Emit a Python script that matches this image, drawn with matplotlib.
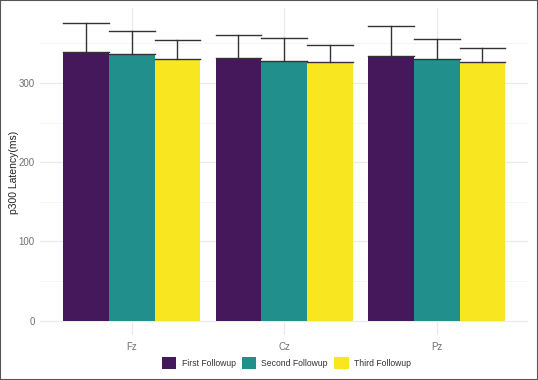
import matplotlib
matplotlib.use("Agg")
import matplotlib.pyplot as plt
from matplotlib.patches import Patch, Rectangle
import numpy as np

sites = ["Fz", "Cz", "Pz"]
series = ["First Followup", "Second Followup", "Third Followup"]
means = {
    "First Followup": [338.8, 332.0, 333.7],
    "Second Followup": [336.6, 328.2, 329.9],
    "Third Followup": [329.9, 326.2, 326.2],
}
sds = {
    "First Followup": [36.6, 29.0, 38.7],
    "Second Followup": [29.1, 29.0, 25.3],
    "Third Followup": [23.8, 21.8, 18.4],
}
colors = ["#44185A", "#21908C", "#F8E621"]

plt.rcParams['font.family'] = ['Liberation Sans', 'DejaVu Sans']
fig = plt.figure(figsize=(5.38, 3.8), dpi=100)
W, H = 538, 380
ax = fig.add_axes([40.2 / W, 1 - 335.4 / H, (528.2 - 40.2) / W, (335.4 - 8.4) / H])

x = np.arange(1, len(sites) + 1)
bw = 0.3
for i, s in enumerate(series):
    xs = x + (i - 1) * bw
    m = np.array(means[s]); sd = np.array(sds[s])
    ax.bar(xs, m, width=bw, color=colors[i], zorder=2, linewidth=0)
    for xx, mm, ss in zip(xs, m, sd):
        ax.plot([xx, xx], [mm, mm + ss], color="#333333", lw=1.0, zorder=3)
        ax.plot([xx - bw / 2, xx + bw / 2], [mm + ss, mm + ss], color="#333333", lw=1.0, zorder=3)
        ax.plot([xx - bw / 2, xx + bw / 2], [mm, mm], color="#333333", lw=1.0, zorder=3)

top = max(max(np.array(means[s]) + np.array(sds[s])) for s in series)
rng = top - 0
ax.set_ylim(0 - 0.05 * rng, top + 0.05 * rng)
ax.set_xlim(0.4, 3.6)
ax.set_xticks(x)
ax.set_xticklabels(sites)
ax.set_yticks([0, 100, 200, 300])
ax.set_yticks([50, 150, 250, 350], minor=True)
ax.grid(True, which='major', color="#EBEBEB", lw=0.9, zorder=0)
ax.grid(True, which='minor', axis='y', color="#F4F4F4", lw=0.6, zorder=0)
ax.set_axisbelow(True)
for sp in ax.spines.values():
    sp.set_visible(False)
ax.tick_params(axis='both', which='both', length=0, labelsize=7, labelcolor="#707070")
ax.tick_params(axis='x', pad=5)
ax.tick_params(axis='y', pad=4)
ax.set_ylabel("p300 Latency(ms)", fontsize=7.5, color="#222222")
ax.yaxis.set_label_coords((19 - 40.2) / (528.2 - 40.2), 0.5)

handles = [Patch(facecolor=c, edgecolor='none', label=s) for c, s in zip(colors, series)]
fig.legend(handles=handles, loc='center', bbox_to_anchor=(286.5 / W, 1 - 363 / H), ncol=3,
           frameon=False, fontsize=6.2, handlelength=1.65, handleheight=1.65,
           handletextpad=0.6, columnspacing=0.75, labelcolor="#333333")

fig.patches.append(Rectangle((0, 0), 1, 1, transform=fig.transFigure, fill=False,
                             edgecolor="#555555", lw=1.5))
fig.savefig("out.png", dpi=100)
